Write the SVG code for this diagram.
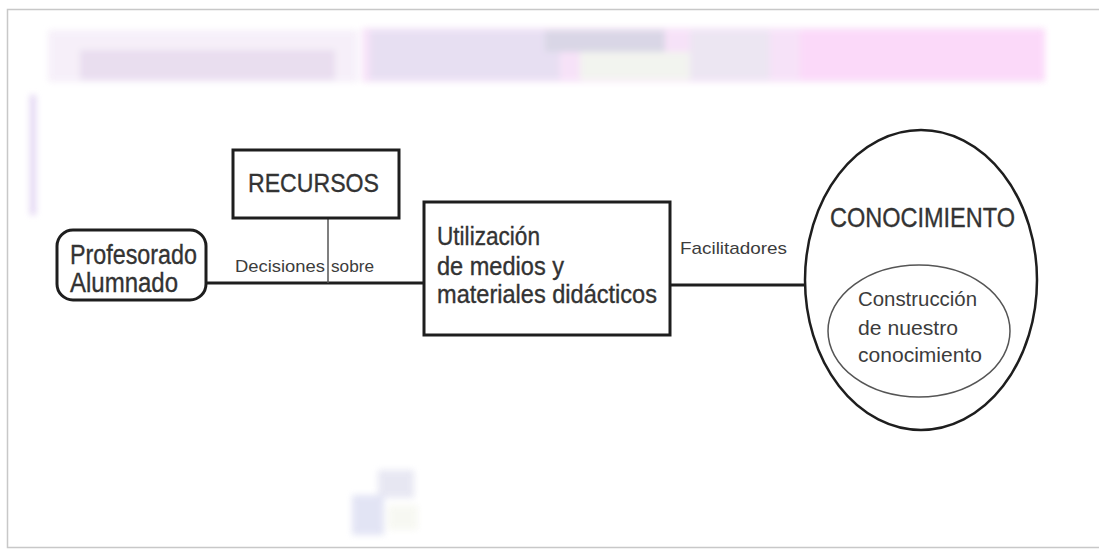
<svg xmlns="http://www.w3.org/2000/svg" width="1099" height="549" viewBox="0 0 1099 549">
<defs>
<filter id="soft" x="-10%" y="-10%" width="120%" height="120%"><feGaussianBlur stdDeviation="3"/></filter>
<style>
.box{fill:#fff;stroke:#1e1e1e;stroke-width:3}
.thin{fill:none;stroke:#555;stroke-width:1.5}
.conn{fill:none;stroke:#1e1e1e;stroke-width:3}
.t{font-family:"Liberation Sans",Arial,sans-serif;fill:#333;stroke:#333;stroke-width:0.35}
.s{font-family:"Liberation Sans",Arial,sans-serif;fill:#3c3c3c;stroke:none}
</style>
</defs>
<rect width="1099" height="549" fill="#fff"/>
<path d="M1099 9.5H7.5V547.5H1099" fill="none" stroke="#c8c8c8" stroke-width="1.5"/>
<g id="blur-areas" filter="url(#soft)" opacity="0.8">
<rect x="48" y="30" width="310" height="52" fill="#f4ecf8"/>
<rect x="80" y="50" width="255" height="30" fill="#e4d6ec"/>
<rect x="362" y="28" width="683" height="54" fill="#f5dcf7"/>
<rect x="370" y="30" width="190" height="50" fill="#e2d8f0"/>
<rect x="545" y="30" width="120" height="22" fill="#d0cde0"/>
<rect x="580" y="52" width="110" height="28" fill="#f0f2ec"/>
<rect x="690" y="30" width="80" height="50" fill="#e8e0f0"/>
<rect x="800" y="30" width="245" height="50" fill="#fbd0f8"/>
<rect x="30" y="95" width="6" height="120" fill="#dccbf0"/>
<rect x="378" y="470" width="36" height="28" fill="#e2e2f0"/>
<rect x="352" y="495" width="32" height="40" fill="#dcdef2"/>
<rect x="388" y="505" width="30" height="25" fill="#f6f7f0"/>
</g>
<g id="connectors">
<line class="conn" x1="206" y1="283" x2="424" y2="283"/>
<line class="thin" x1="328" y1="218" x2="328" y2="283"/>
<line class="conn" x1="670" y1="285" x2="806" y2="285"/>
</g>
<g id="profesorado">
<rect class="box" x="57" y="230" width="149" height="70" rx="16"/>
<text class="t" x="70" y="264" font-size="27" textLength="127" lengthAdjust="spacingAndGlyphs">Profesorado</text>
<text class="t" x="70" y="292" font-size="27" textLength="108" lengthAdjust="spacingAndGlyphs">Alumnado</text>
</g>
<g id="recursos">
<rect class="box" x="233" y="150" width="166" height="68"/>
<text class="t" x="248" y="192" font-size="26" textLength="131" lengthAdjust="spacingAndGlyphs">RECURSOS</text>
</g>
<g id="decisiones-label">
<text class="s" x="235" y="272" font-size="17" textLength="90" lengthAdjust="spacingAndGlyphs">Decisiones</text>
<text class="s" x="331" y="272" font-size="17" textLength="43" lengthAdjust="spacingAndGlyphs">sobre</text>
</g>
<g id="utilizacion">
<rect class="box" x="424" y="202" width="246" height="133"/>
<text class="t" x="437" y="245" font-size="25" textLength="103" lengthAdjust="spacingAndGlyphs">Utilización</text>
<text class="t" x="437" y="275" font-size="25" textLength="127" lengthAdjust="spacingAndGlyphs">de medios y</text>
<text class="t" x="437" y="303" font-size="25" textLength="220" lengthAdjust="spacingAndGlyphs">materiales didácticos</text>
</g>
<g id="facilitadores-label">
<text class="s" x="680" y="254" font-size="17" textLength="107" lengthAdjust="spacingAndGlyphs">Facilitadores</text>
</g>
<g id="conocimiento">
<ellipse cx="921" cy="280" rx="116" ry="150" fill="#fff" stroke="#1e1e1e" stroke-width="2.5"/>
<text class="t" x="830" y="227" font-size="28" textLength="185" lengthAdjust="spacingAndGlyphs">CONOCIMIENTO</text>
<g id="construccion">
<ellipse class="thin" cx="919" cy="331" rx="91" ry="66"/>
<text class="s" x="858" y="306" font-size="20" textLength="119" lengthAdjust="spacingAndGlyphs">Construcción</text>
<text class="s" x="858" y="335" font-size="20" textLength="100" lengthAdjust="spacingAndGlyphs">de nuestro</text>
<text class="s" x="858" y="362" font-size="20" textLength="124" lengthAdjust="spacingAndGlyphs">conocimiento</text>
</g>
</g>
</svg>
